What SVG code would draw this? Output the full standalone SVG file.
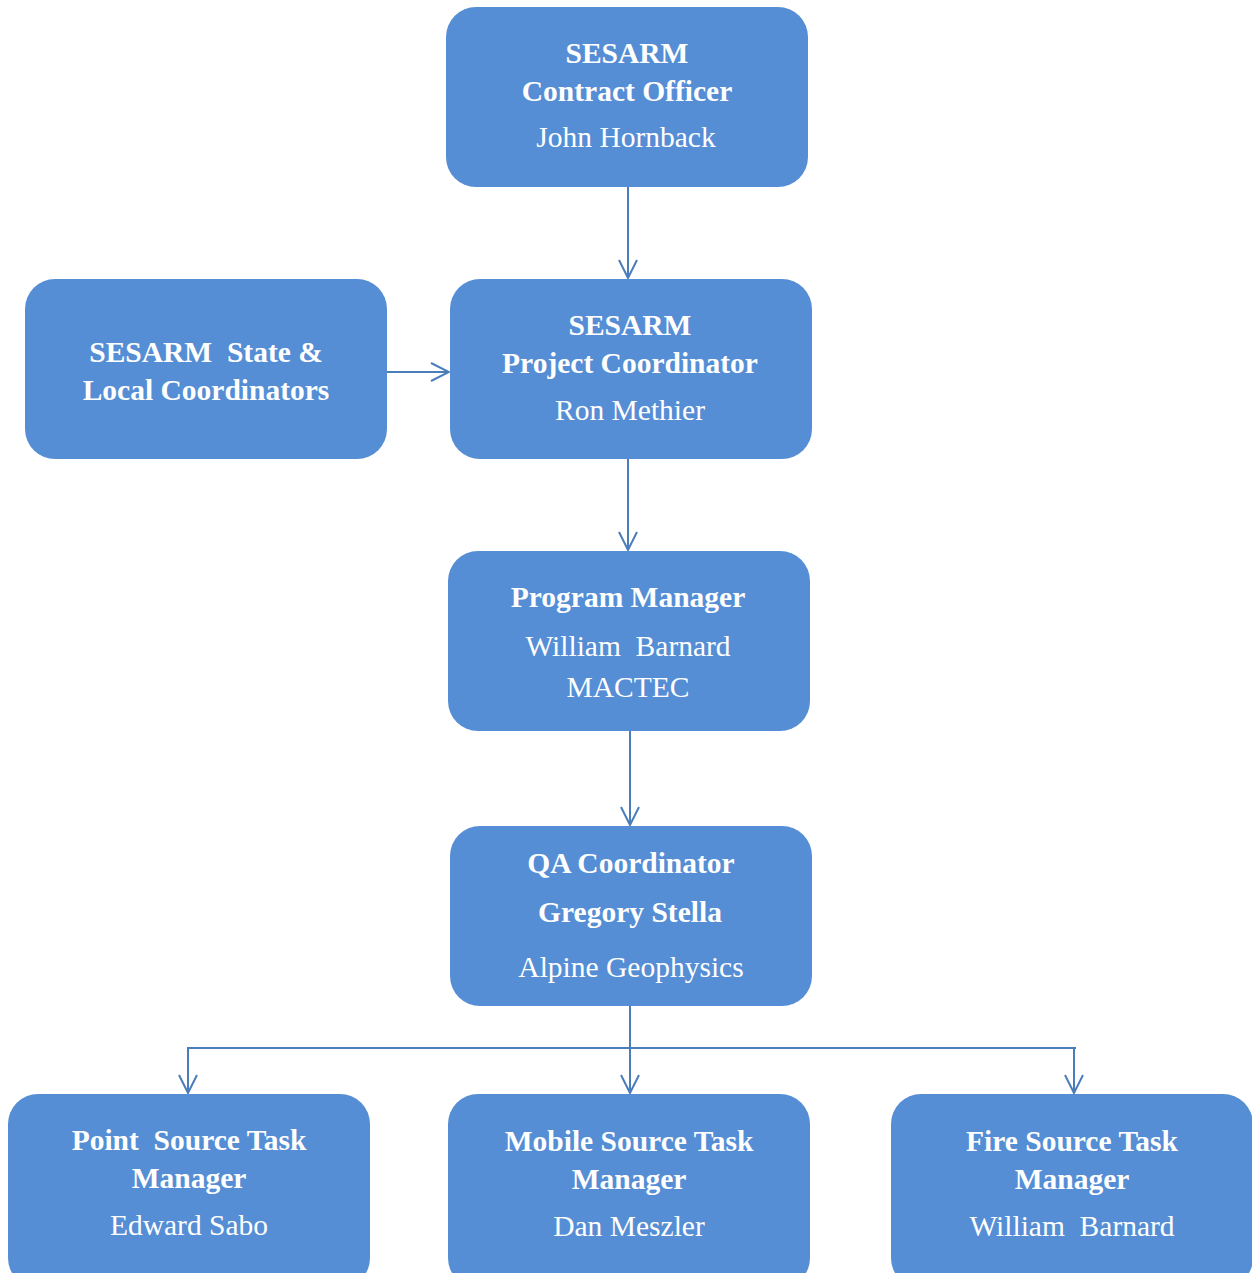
<svg xmlns="http://www.w3.org/2000/svg" width="1252" height="1273" viewBox="0 0 1252 1273">
<defs>
<style>
.box{fill:#558ED5;}
.t{font-family:"Liberation Serif","Times New Roman",serif;fill:#fff;text-anchor:middle;font-size:29.5px;}
.b{font-weight:bold;font-size:29.5px;}
.c{stroke:#4A7EBB;stroke-width:2;fill:none;}
</style>
<marker id="ah" viewBox="0 0 20 20" refX="19" refY="10" markerWidth="20" markerHeight="20" markerUnits="userSpaceOnUse" orient="auto">
<path d="M1,1 L19,10 L1,19" fill="none" stroke="#4A7EBB" stroke-width="2"/>
</marker>
</defs>
<rect width="1252" height="1273" fill="#fff"/>
<g id="connectors" class="c">
<line x1="628" y1="187" x2="628" y2="278" marker-end="url(#ah)"/>
<line x1="387" y1="372" x2="449" y2="372" marker-end="url(#ah)"/>
<line x1="628" y1="459" x2="628" y2="550" marker-end="url(#ah)"/>
<line x1="630" y1="731" x2="630" y2="825" marker-end="url(#ah)"/>
<line x1="630" y1="1006" x2="630" y2="1093" marker-end="url(#ah)"/>
<polyline points="188,1093 188,1048 1076,1048"/>
<line x1="188" y1="1060" x2="188" y2="1093" marker-end="url(#ah)"/>
<line x1="1074" y1="1049" x2="1074" y2="1093" marker-end="url(#ah)"/>
</g>
<g id="contract-officer">
<rect class="box" x="446" y="7" width="362" height="180" rx="30"/>
<text class="t b" x="627" y="63">SESARM</text>
<text class="t b" x="627" y="101">Contract Officer</text>
<text class="t" x="626" y="147">John Hornback</text>
</g>
<g id="state-local">
<rect class="box" x="25" y="279" width="362" height="180" rx="30"/>
<text class="t b" x="206" y="362" xml:space="preserve">SESARM  State &amp;</text>
<text class="t b" x="206" y="400">Local Coordinators</text>
</g>
<g id="project-coordinator">
<rect class="box" x="450" y="279" width="362" height="180" rx="30"/>
<text class="t b" x="630" y="335">SESARM</text>
<text class="t b" x="630" y="373">Project Coordinator</text>
<text class="t" x="630" y="420">Ron Methier</text>
</g>
<g id="program-manager">
<rect class="box" x="448" y="551" width="362" height="180" rx="30"/>
<text class="t b" x="628" y="607">Program Manager</text>
<text class="t" x="628" y="656" xml:space="preserve">William  Barnard</text>
<text class="t" x="628" y="697">MACTEC</text>
</g>
<g id="qa-coordinator">
<rect class="box" x="450" y="826" width="362" height="180" rx="30"/>
<text class="t b" x="631" y="873">QA Coordinator</text>
<text class="t b" x="630" y="922">Gregory Stella</text>
<text class="t" x="631" y="977">Alpine Geophysics</text>
</g>
<g id="point-source">
<rect class="box" x="8" y="1094" width="362" height="194" rx="30"/>
<text class="t b" x="189" y="1150" xml:space="preserve">Point  Source Task</text>
<text class="t b" x="189" y="1188">Manager</text>
<text class="t" x="189" y="1235">Edward Sabo</text>
</g>
<g id="mobile-source">
<rect class="box" x="448" y="1094" width="362" height="194" rx="30"/>
<text class="t b" x="629" y="1151">Mobile Source Task</text>
<text class="t b" x="629" y="1189">Manager</text>
<text class="t" x="629" y="1236">Dan Meszler</text>
</g>
<g id="fire-source">
<rect class="box" x="891" y="1094" width="362" height="194" rx="30"/>
<text class="t b" x="1072" y="1151">Fire Source Task</text>
<text class="t b" x="1072" y="1189">Manager</text>
<text class="t" x="1072" y="1236" xml:space="preserve">William  Barnard</text>
</g>
</svg>
